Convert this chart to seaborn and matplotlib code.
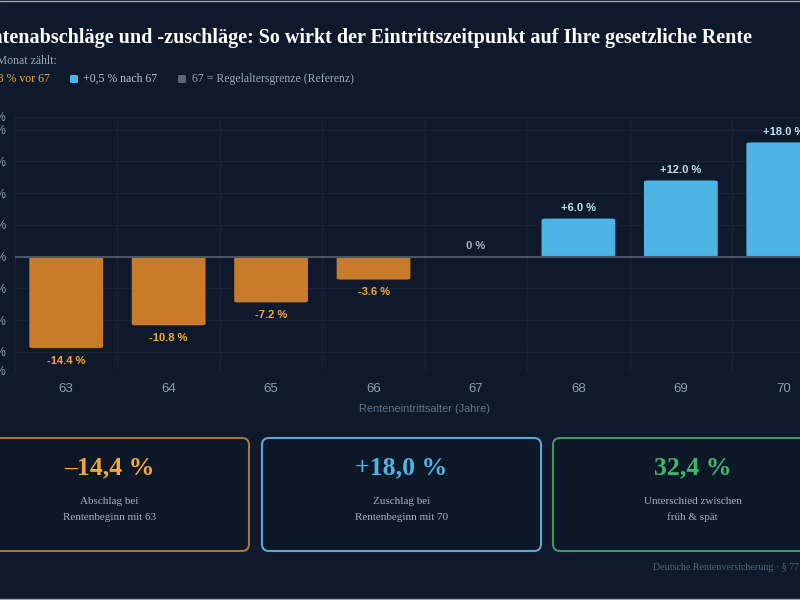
import numpy as np
import pandas as pd
import matplotlib
matplotlib.use("Agg")
import matplotlib.pyplot as plt
import seaborn as sns
from matplotlib.patches import FancyBboxPatch

# ---------------- data ----------------
ages = ["63", "64", "65", "66", "67", "68", "69", "70"]
changes = [-14.4, -10.8, -7.2, -3.6, 0.0, 6.0, 12.0, 18.0]
bar_labels = ["-14.4 %", "-10.8 %", "-7.2 %", "-3.6 %", "0 %", "+6.0 %", "+12.0 %", "+18.0 %"]
y_ticks = [-18, -15, -10, -5, 0, 5, 10, 15, 20, 22]

card_values = ["\u201314,4 %", "+18,0 %", "32,4 %"]
card_line1 = ["Abschlag bei", "Zuschlag bei", "Unterschied zwischen"]
card_line2 = ["Rentenbeginn mit 63", "Rentenbeginn mit 70", "fr\u00fch & sp\u00e4t"]

title = "Rentenabschl\u00e4ge und -zuschl\u00e4ge: So wirkt der Eintrittszeitpunkt auf Ihre gesetzliche Rente"
subtitle = "Jeder Monat z\u00e4hlt:"
legend_items = ["\u20130,3 % vor 67", "+0,5 % nach 67", "67 = Regelaltersgrenze (Referenz)"]
source = "Deutsche Rentenversicherung \u00b7 \u00a7 77 SGB VI"

# ---------------- style ----------------
BG = "#0e1a2b"
ORANGE = "#c97b2c"
ORANGE_TXT = "#f2a93a"
BLUE = "#4db5e5"
BLUE_TXT = "#bfe3f5"
GREEN = "#3db86e"
GRAY_SQ = "#5a6578"
GRID = "#172435"
TICK = "#8c9db3"

sns.set_theme(style="dark")
plt.rcParams["font.family"] = ["Liberation Sans", "DejaVu Sans"]
SERIF = ["Liberation Serif", "DejaVu Serif"]

W, H = 800, 600
fig = plt.figure(figsize=(8, 6), dpi=100, facecolor=BG)

# overlay axes in pixel coordinates
oax = fig.add_axes([0, 0, 1, 1])
oax.set_xlim(0, W)
oax.set_ylim(H, 0)
oax.axis("off")
oax.set_facecolor("none")

# chart axes (extends past right edge like the reference)
left_px, right_px, top_px, bot_px = 15, 834.5, 117, 371
ax = fig.add_axes([left_px / W, 1 - bot_px / H, (right_px - left_px) / W, (bot_px - top_px) / H])
ax.set_facecolor(BG)

df = pd.DataFrame({"age": ages, "change": changes})
df["kind"] = np.where(df["change"] < 0, "neg", "pos")
sns.barplot(data=df, x="age", y="change", hue="kind", palette={"neg": ORANGE, "pos": BLUE},
            dodge=False, width=0.72, legend=False, ax=ax, saturation=1)

# rounded bars
for p in list(ax.patches):
    x0, y0 = p.get_x(), p.get_y()
    w, h = p.get_width(), p.get_height()
    if h == 0 or np.isnan(h):
        p.remove()
        continue
    fc = p.get_facecolor()
    p.remove()
    ax.add_patch(FancyBboxPatch((x0, min(y0, y0 + h)), w, abs(h),
                                boxstyle="round,pad=0,rounding_size=0.04",
                                mutation_aspect=6.0, fc=fc, ec="none", zorder=3))

ax.set_ylim(-18, 22)
ax.set_xlim(-0.5, len(ages) - 0.5)
ax.set_yticks(y_ticks)
ax.set_yticklabels([f"{t} %" for t in y_ticks])
ax.set_xticks(range(len(ages)))
ax.set_xticklabels(ages)
ax.set_xticks(np.arange(-0.5, len(ages), 1.0), minor=True)
ax.tick_params(axis="both", which="both", length=0)
ax.tick_params(axis="y", colors=TICK, labelsize=8.5, pad=6.5)
ax.tick_params(axis="x", colors=TICK, labelsize=9.5, pad=9)
ax.grid(False)
ax.yaxis.grid(True, color=GRID, lw=1)
ax.xaxis.grid(True, which="minor", color=GRID, lw=1)
for s in ax.spines.values():
    s.set_visible(False)
ax.axhline(0, color="#4a5568", lw=1.5, zorder=4)
ax.set_ylabel("")
ax.set_xlabel("Renteneintrittsalter (Jahre)", color="#5f738c", fontsize=7.9, labelpad=6)

for i, (v, lab) in enumerate(zip(changes, bar_labels)):
    if v < 0:
        ax.annotate(lab, (i, v), xytext=(0, -5.5), textcoords="offset points", ha="center", va="top",
                    color=ORANGE_TXT, fontsize=8, fontweight="bold", zorder=5)
    elif v > 0:
        ax.annotate(lab, (i, v), xytext=(0, 4), textcoords="offset points", ha="center", va="bottom",
                    color=BLUE_TXT, fontsize=8, fontweight="bold", zorder=5)
    else:
        ax.annotate(lab, (i, v), xytext=(0, 4), textcoords="offset points", ha="center", va="bottom",
                    color="#a8b6c8", fontsize=8, fontweight="bold", zorder=5)

# title / subtitle / legend
oax.text(752, 38, title, ha="right", va="center", color="white", fontsize=14.5,
         fontweight="bold", family=SERIF)
oax.text(57, 61, subtitle, ha="right", va="center", color="#9aa8ba", fontsize=8.5, family=SERIF)

leg_y = 79
oax.add_patch(FancyBboxPatch((-36, leg_y - 4), 8, 8, boxstyle="round,pad=0,rounding_size=1.5",
                             fc=ORANGE, ec="none"))
oax.text(50, leg_y, legend_items[0], ha="right", va="center", color=ORANGE_TXT, fontsize=8.5, family=SERIF)
oax.add_patch(FancyBboxPatch((70, leg_y - 4), 8, 8, boxstyle="round,pad=0,rounding_size=1.5",
                             fc=BLUE, ec="none"))
oax.text(83, leg_y, legend_items[1], ha="left", va="center", color="#b8c4d4", fontsize=8.5, family=SERIF)
oax.add_patch(FancyBboxPatch((178, leg_y - 4), 8, 8, boxstyle="round,pad=0,rounding_size=1.5",
                             fc=GRAY_SQ, ec="none"))
oax.text(192, leg_y, legend_items[2], ha="left", va="center", color="#9aa8ba", fontsize=8.5, family=SERIF)

# cards
card_x = [-30, 262, 553]
card_w = 279
card_y0, card_y1 = 438, 551
card_edge = ["#a8743a", "#5ba6d8", "#3a9a60"]
card_val_col = [ORANGE_TXT, BLUE, GREEN]
for cx, val, l1, l2, ec, vc in zip(card_x, card_values, card_line1, card_line2, card_edge, card_val_col):
    oax.add_patch(FancyBboxPatch((cx, card_y0), card_w, card_y1 - card_y0,
                                 boxstyle="round,pad=0,rounding_size=7",
                                 fc="#0c1727", ec=ec, lw=1.5))
    mid = cx + card_w / 2
    oax.text(mid, 467.5, val, ha="center", va="center", color=vc, fontsize=18.5,
             fontweight="bold", family=SERIF)
    oax.text(mid, 501, l1, ha="center", va="center", color="#a4b1c2", fontsize=8, family=SERIF)
    oax.text(mid, 517, l2, ha="center", va="center", color="#a4b1c2", fontsize=8, family=SERIF)

oax.text(653, 567, source, ha="left", va="center", color="#4f6480", fontsize=7.2, family=SERIF)

# screenshot border lines
oax.plot([0, W], [0.5, 0.5], color="#9aa4b0", lw=1)
oax.plot([0, W], [598.5, 598.5], color="#9aa4b0", lw=1)

fig.savefig("out.png", dpi=100, facecolor=BG)
